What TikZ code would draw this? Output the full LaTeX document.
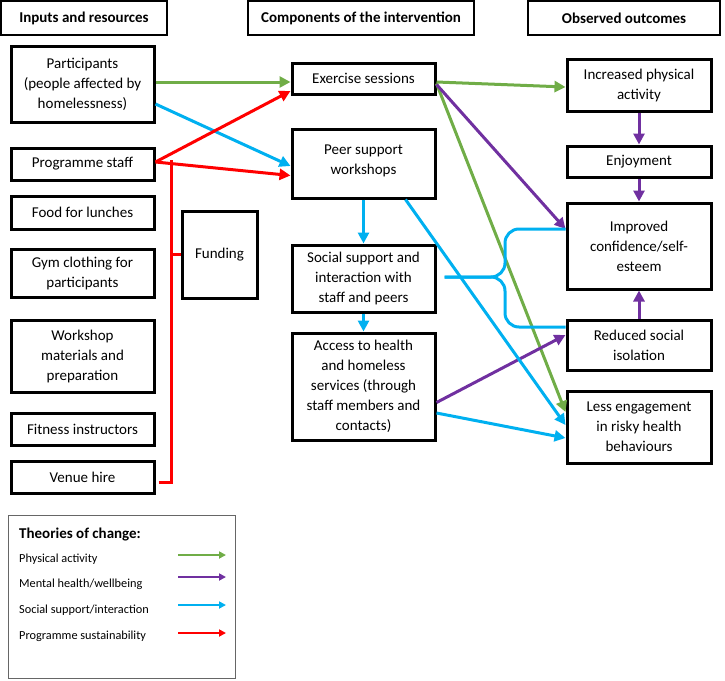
\documentclass[tikz,border=0pt]{standalone}
\usepackage{fontspec}
\setmainfont{Carlito}
\definecolor{pagreen}{HTML}{70AD47}
\definecolor{mhpurple}{HTML}{7030A0}
\definecolor{ssblue}{HTML}{00B0F0}
\definecolor{psred}{HTML}{FF0000}
\usetikzlibrary{positioning,arrows.meta}

\begin{document}
\begin{tikzpicture}[x=1pt, y=-1pt, font=\fontsize{15}{20}\selectfont]
    \tikzstyle{box}=[draw, line width=3pt, align=center, inner sep=2pt]
    \tikzstyle{head}=[draw, line width=2pt, minimum height=34pt,
                      font=\fontsize{15}{20}\selectfont\bfseries]
    \tikzstyle{arrow}=[line width=3pt, -{Triangle[length=11pt,width=11pt]}]
    \tikzstyle{link}=[line width=3pt]
    \tikzstyle{key}=[line width=1.8pt, -{Triangle[length=7pt,width=7pt]}]
    \tikzstyle{keytext}=[font=\fontsize{12.3}{14}\selectfont, anchor=west, inner sep=0pt]

    \useasboundingbox (0,0) rectangle (725,680);

    % column headings
    \node[head, minimum width=166pt] (hin)   at (84,18)  {Inputs and resources};
    \node[head, minimum width=226pt] (hcomp) at (361,18) {Components of the intervention};
    \node[head, minimum width=192pt] (hout)  at (624,18) {Observed outcomes};

    % inputs
    \node[box, minimum width=143pt, minimum height=76pt] (part)  at (82.5,84)
          {Participants\\(people affected by\\homelessness)};
    \node[box, minimum width=143pt, minimum height=32pt] (staff) at (82.5,164) {Programme staff};
    \node[box, minimum width=143pt, minimum height=33pt] (food)  at (82.5,212.5) {Food for lunches};
    \node[box, minimum width=143pt, minimum height=48pt] (gym)   at (82.5,273)
          {Gym clothing for\\participants};
    \node[box, minimum width=143pt, minimum height=72pt] (work)  at (82.5,356)
          {Workshop\\materials and\\preparation};
    \node[box, minimum width=143pt, minimum height=32pt] (fit)   at (82.5,429) {Fitness instructors};
    \node[box, minimum width=143pt, minimum height=32pt] (venue) at (82.5,477) {Venue hire};
    \node[box, minimum width=75pt, minimum height=87pt]  (fund)  at (219.5,254.5) {Funding};

    % intervention
    \node[box, minimum width=143pt, minimum height=31pt]  (ex)   at (363.5,78.5) {Exercise sessions};
    \node[box, minimum width=143pt, minimum height=69pt, text depth=8pt] (peer) at (363.5,163.5)
          {Peer support\\workshops};
    \node[box, minimum width=143pt, minimum height=67pt]  (soc)  at (363.5,278.5)
          {Social support and\\interaction with\\staff and peers};
    \node[box, minimum width=143pt, minimum height=107pt] (acc)  at (363.5,386.5)
          {Access to health\\and homeless\\services (through\\staff members and\\contacts)};

    % outcomes
    \node[box, minimum width=144pt, minimum height=52pt] (inc)  at (639,85)
          {Increased physical\\activity};
    \node[box, minimum width=144pt, minimum height=31pt] (enj)  at (639,161.5) {Enjoyment};
    \node[box, minimum width=144pt, minimum height=86pt] (imp)  at (639,246)
          {Improved\\confidence/self-\\esteem};
    \node[box, minimum width=144pt, minimum height=50pt] (red)  at (639,345)
          {Reduced social\\isolation};
    \node[box, minimum width=144pt, minimum height=72pt] (less) at (639,427)
          {Less engagement\\in risky health\\behaviours};

    % physical activity
    \draw[arrow, pagreen] ([yshift=2pt]part.east) -- ([yshift=-3.5pt]ex.west);
    \draw[arrow, pagreen] ([yshift=-3.5pt]ex.east) -- ([yshift=-2pt]inc.west);
    \draw[arrow, pagreen] ([yshift=-5pt]ex.east) -- ([yshift=15pt]less.west);

    % mental health/wellbeing
    \draw[arrow, mhpurple] ([yshift=-6pt]ex.east) -- ([yshift=17pt]imp.west);
    \draw[arrow, mhpurple] (inc.south) -- (enj.north);
    \draw[arrow, mhpurple] (enj.south) -- (imp.north);
    \draw[arrow, mhpurple] (red.north) -- (imp.south);
    \draw[arrow, mhpurple] ([yshift=-16pt]acc.east) -- ([yshift=10pt]red.west);

    % social support/interaction
    \draw[arrow, ssblue] ([yshift=-20pt]part.east) -- ([yshift=-2.5pt]peer.west);
    \draw[arrow, ssblue] (peer.south) -- (soc.north);
    \draw[arrow, ssblue] (soc.south) -- (acc.north);
    \draw[arrow, ssblue] ([xshift=42pt]peer.south) -- ([yshift=2pt]less.west);
    \draw[arrow, ssblue] ([yshift=-26.5pt]acc.east) -- ([yshift=-11pt]less.west);
    \coordinate (bend) at (505,277);
    \coordinate (btop) at ([yshift=17pt]imp.west);
    \coordinate (bbot) at ([yshift=18pt]red.west);
    \draw[link, ssblue, rounded corners=14pt]
          ([xshift=8pt,yshift=1.5pt]soc.east) -| (bend |- btop) -- (btop);
    \draw[link, ssblue, rounded corners=14pt]
          ([xshift=8pt,yshift=1.5pt]soc.east) -| (bend |- bbot) -- (bbot);

    % programme sustainability
    \draw[arrow, psred] ([yshift=2pt]staff.east) -- ([yshift=-12.5pt]ex.west);
    \draw[arrow, psred] ([yshift=2pt]staff.east) -- ([yshift=-12pt]peer.west);
    \coordinate (rail) at (171,160);
    \draw[link, psred] ([xshift=3pt,yshift=-5pt]venue.east) -| (rail);
    \draw[link, psred] (rail |- fund.west) -- (fund.west);

    % legend
    \node[draw=black!60, line width=1pt, minimum width=227pt, minimum height=163pt]
          (legend) at (121.5,596.5) {};
    \node[anchor=west, inner sep=0pt, font=\fontsize{15}{18}\selectfont\bfseries]
          (ktitle) at (19,534) {Theories of change:};
    \node[keytext] (kpa) at (19,559) {Physical activity};
    \node[keytext] (kmh) at (19,584) {Mental health/wellbeing};
    \node[keytext] (kss) at (19,610) {Social support/interaction};
    \node[keytext] (kps) at (19,636) {Programme sustainability};
    \coordinate (ka) at (178,555);
    \coordinate (kb) at (178,577);
    \coordinate (kc) at (178,605);
    \coordinate (kd) at (178,633);
    \draw[key, pagreen]  (ka) -- ++(48,0);
    \draw[key, mhpurple] (kb) -- ++(48,0);
    \draw[key, ssblue]   (kc) -- ++(48,0);
    \draw[key, psred]    (kd) -- ++(48,0);
\end{tikzpicture}
\end{document}
